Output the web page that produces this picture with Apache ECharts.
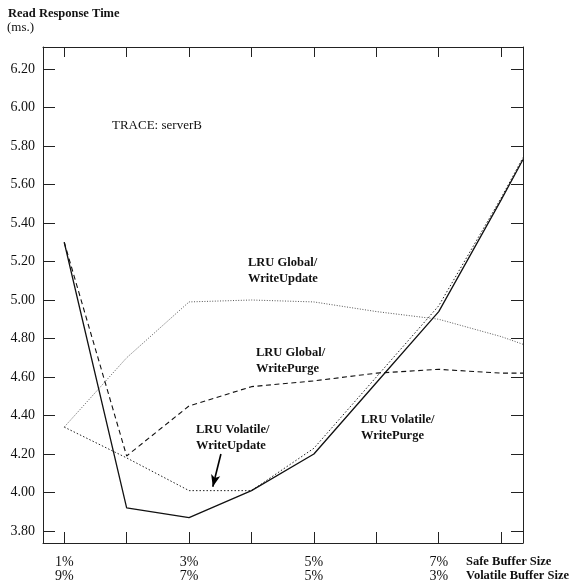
<!DOCTYPE html>
<html>
<head>
<meta charset="utf-8">
<script src="https://cdn.jsdelivr.net/npm/echarts@6/dist/echarts.min.js"></script>
<style>html,body{margin:0;padding:0;background:#fff}#c{width:574px;height:581px}</style>
</head>
<body>
<div id="c"></div>
<script>
// Safe buffer size (%) sampled points; last point is at the right edge of the plot
var safeSize = [1, 2, 3, 4, 5, 6, 7, 8, 8.35];
var volatilePurge = [5.30, 3.92, 3.87, 4.01, 4.20, 4.57, 4.94, 5.52, 5.73];
var volatileUpdate = [4.34, 4.18, 4.01, 4.01, 4.23, 4.60, 4.97, 5.53, 5.74];
var globalPurge = [5.30, 4.19, 4.45, 4.55, 4.58, 4.62, 4.64, 4.62, 4.62];
var globalUpdate = [4.34, 4.70, 4.99, 5.00, 4.99, 4.94, 4.90, 4.81, 4.77];
var yTicks = [3.8, 4.0, 4.2, 4.4, 4.6, 4.8, 5.0, 5.2, 5.4, 5.6, 5.8, 6.0, 6.2];
var xTicks = [1, 2, 3, 4, 5, 6, 7, 8];
var xLabels = [1, 3, 5, 7];

function pairs(ys) { return safeSize.map(function (x, i) { return [x, ys[i]]; }); }
var FONT = '"Liberation Serif", "DejaVu Serif", serif';
var chart = echarts.init(document.getElementById('c'));
var axisLine = { show: true, lineStyle: { color: '#222', width: 1 } };
var tickStyle = { color: '#222', width: 1 };

chart.setOption({
  animation: false,
  backgroundColor: '#fff',
  grid: { left: 43, right: 51, top: 47, bottom: 38, outerBoundsMode: 'none', containLabel: false },
  xAxis: [
    {
      type: 'value', position: 'bottom', min: 0.66, max: 8.35,
      axisLine: axisLine, splitLine: { show: false },
      axisTick: { show: true, inside: true, length: 11, lineStyle: tickStyle, customValues: xTicks },
      axisLabel: {
        show: true, customValues: xLabels, margin: 12,
        fontFamily: FONT, fontSize: 14, color: '#111', lineHeight: 14,
        formatter: function (v) { return v + '%\n' + (10 - v) + '%'; }
      }
    },
    {
      type: 'value', position: 'top', min: 0.66, max: 8.35,
      axisLine: axisLine, splitLine: { show: false },
      axisTick: { show: true, inside: true, length: 10, lineStyle: tickStyle, customValues: xTicks },
      axisLabel: { show: false }
    }
  ],
  yAxis: [
    {
      type: 'value', position: 'left', min: 3.738, max: 6.314,
      axisLine: axisLine, splitLine: { show: false },
      axisTick: { show: true, inside: true, length: 12, lineStyle: tickStyle, customValues: yTicks },
      axisLabel: {
        show: true, customValues: yTicks, margin: 8,
        fontFamily: FONT, fontSize: 14, color: '#111',
        formatter: function (v) { return v.toFixed(2); }
      }
    },
    {
      type: 'value', position: 'right', min: 3.738, max: 6.314,
      axisLine: axisLine, splitLine: { show: false },
      axisTick: { show: true, inside: true, length: 12, lineStyle: tickStyle, customValues: yTicks },
      axisLabel: { show: false }
    }
  ],
  series: [
    {
      name: 'LRU Volatile/WritePurge', type: 'line', data: pairs(volatilePurge),
      symbol: 'none', lineStyle: { color: '#111', width: 1.3, type: 'solid' }, z: 4
    },
    {
      name: 'LRU Volatile/WriteUpdate', type: 'line', data: pairs(volatileUpdate),
      symbol: 'none', lineStyle: { color: '#222', width: 1, type: [1.5, 2] }, z: 3,
      markLine: {
        silent: true, symbol: ['none', 'arrow'], symbolSize: [7, 12], label: { show: false },
        lineStyle: { color: '#000', width: 1.6, type: 'solid' },
        data: [[{ coord: [3.51, 4.20] }, { coord: [3.38, 4.03] }]]
      }
    },
    {
      name: 'LRU Global/WritePurge', type: 'line', data: pairs(globalPurge),
      symbol: 'none', lineStyle: { color: '#111', width: 1.1, type: [5, 3.5] }, z: 3
    },
    {
      name: 'LRU Global/WriteUpdate', type: 'line', data: pairs(globalUpdate),
      symbol: 'none', lineStyle: { color: '#555', width: 1, type: [1, 1.6] }, z: 2
    }
  ],
  graphic: [
    { type: 'text', left: 8, top: 7, style: { text: 'Read Response Time', font: 'bold 12.5px ' + FONT, fill: '#111' } },
    { type: 'text', left: 7, top: 21, style: { text: '(ms.)', font: '13px ' + FONT, fill: '#111' } },
    { type: 'text', left: 112, top: 119, style: { text: 'TRACE: serverB', font: '13px ' + FONT, fill: '#111' } },
    { type: 'text', left: 248, top: 255, style: { text: 'LRU Global/\nWriteUpdate', font: 'bold 12.5px ' + FONT, lineHeight: 16, fill: '#111' } },
    { type: 'text', left: 256, top: 345, style: { text: 'LRU Global/\nWritePurge', font: 'bold 12.5px ' + FONT, lineHeight: 16, fill: '#111' } },
    { type: 'text', left: 196, top: 422, style: { text: 'LRU Volatile/\nWriteUpdate', font: 'bold 12.5px ' + FONT, lineHeight: 16, fill: '#111' } },
    { type: 'text', left: 361, top: 412, style: { text: 'LRU Volatile/\nWritePurge', font: 'bold 12.5px ' + FONT, lineHeight: 16, fill: '#111' } },
    { type: 'text', left: 466, top: 555, style: { text: 'Safe Buffer Size', font: 'bold 12.5px ' + FONT, fill: '#111' } },
    { type: 'text', left: 466, top: 569, style: { text: 'Volatile Buffer Size', font: 'bold 12.5px ' + FONT, fill: '#111' } }
  ]
});
</script>
</body>
</html>
